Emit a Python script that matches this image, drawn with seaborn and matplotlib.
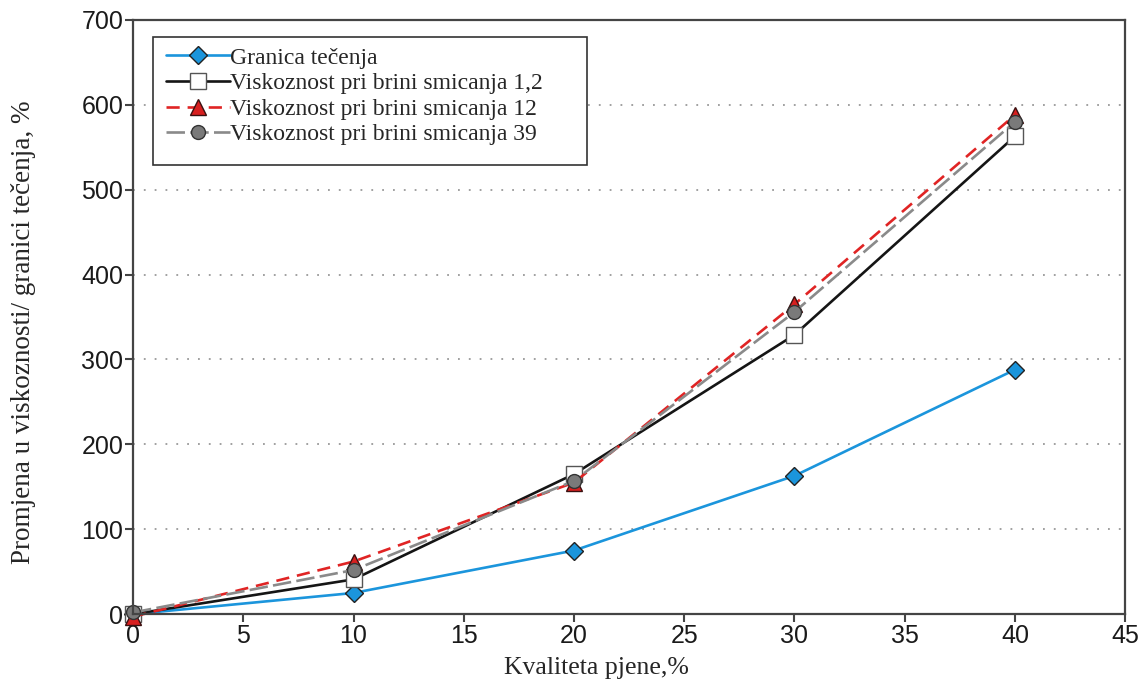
import pandas as pd
import numpy as np
import matplotlib
matplotlib.use("Agg")
import matplotlib.pyplot as plt
import matplotlib.patches as mpatches
import seaborn as sns

# podaci ocitani sa slike
kvaliteta = [0, 10, 20, 30, 40]
granica = [0, 25, 75, 163, 288]
visk_1_2 = [0, 41, 165, 329, 563]
visk_12 = [-3, 62, 155, 365, 588]
visk_39 = [2, 52, 157, 356, 580]

labels = [
    "Granica tečenja",
    "Viskoznost pri brini smicanja 1,2",
    "Viskoznost pri brini smicanja 12",
    "Viskoznost pri brini smicanja 39",
]

SERIF = ["Liberation Serif", "DejaVu Serif"]


def main():
    sns.set_theme(style="ticks")
    plt.rcParams["font.family"] = ["Liberation Sans", "DejaVu Sans"]

    df = pd.DataFrame({
        "x": kvaliteta * 4,
        "y": granica + visk_1_2 + visk_12 + visk_39,
        "serija": [lab for lab in labels for _ in kvaliteta],
    })

    stil = {
        labels[0]: dict(color="#1b95dc", marker="D", mfc="#1b95dc", mec="#222222", ms=9, dash=None),
        labels[1]: dict(color="#151515", marker="s", mfc="white", mec="#555555", ms=11, dash=None),
        labels[2]: dict(color="#e02424", marker="^", mfc="#d81f1f", mec="#3a1010", ms=12, dash=(5, 3)),
        labels[3]: dict(color="#8a8a8a", marker="o", mfc="#7a7a7a", mec="#333333", ms=10, dash=(7, 2)),
    }

    fig = plt.figure(figsize=(11.47, 6.87), dpi=100)
    ax = fig.add_axes([0.116, 0.106, 0.865, 0.865])

    for lab in labels:
        s = stil[lab]
        sub = df[df["serija"] == lab]
        sns.lineplot(data=sub, x="x", y="y", ax=ax, color=s["color"], marker=s["marker"],
                     markersize=s["ms"], markerfacecolor=s["mfc"], markeredgecolor=s["mec"],
                     markeredgewidth=1.0, linewidth=1.9, label=lab, clip_on=False)
        if s["dash"] is not None:
            ax.lines[-1].set_dashes(s["dash"])

    ax.set_xlim(0, 45)
    ax.set_ylim(0, 700)
    ax.set_xticks(np.arange(0, 46, 5))
    ax.set_yticks(np.arange(0, 701, 100))
    for yv in range(100, 700, 100):
        ax.axhline(yv, color="#999999", linestyle=(0, (1, 5)), linewidth=1.3, zorder=0)

    for sp in ax.spines.values():
        sp.set_color("#444444")
        sp.set_linewidth(1.6)
    ax.tick_params(axis="both", which="major", direction="out", length=6, width=1.5,
                   color="#444444", labelsize=18, labelcolor="#1a1a1a", pad=1,
                   bottom=True, left=True, top=False, right=False)

    ax.set_xlabel("Kvaliteta pjene,%", fontsize=18.5, family=SERIF)
    ax.xaxis.set_label_coords(0.467, -0.072)
    ax.set_ylabel("Promjena u viskoznosti/ granici tečenja, %", fontsize=19.5, family=SERIF)
    ax.yaxis.set_label_coords(-0.098, 0.475)

    leg = ax.legend(loc="upper left", bbox_to_anchor=(0.026, 0.966), frameon=False,
                    prop={"family": SERIF, "size": 17},
                    handlelength=2.7, handletextpad=0.0, labelspacing=0.17, borderpad=0.3,
                    borderaxespad=0)
    # okvir legende (veci od sadrzaja, kao na originalu)
    okvir = mpatches.Rectangle((0.0202, 0.756), 0.4375, 0.215, transform=ax.transAxes,
                               facecolor="white", edgecolor="#333333", linewidth=1.2,
                               zorder=4.5)
    ax.add_patch(okvir)
    leg.set_zorder(5)

    fig.savefig("out.png", dpi=100)


if __name__ == "__main__":
    main()
